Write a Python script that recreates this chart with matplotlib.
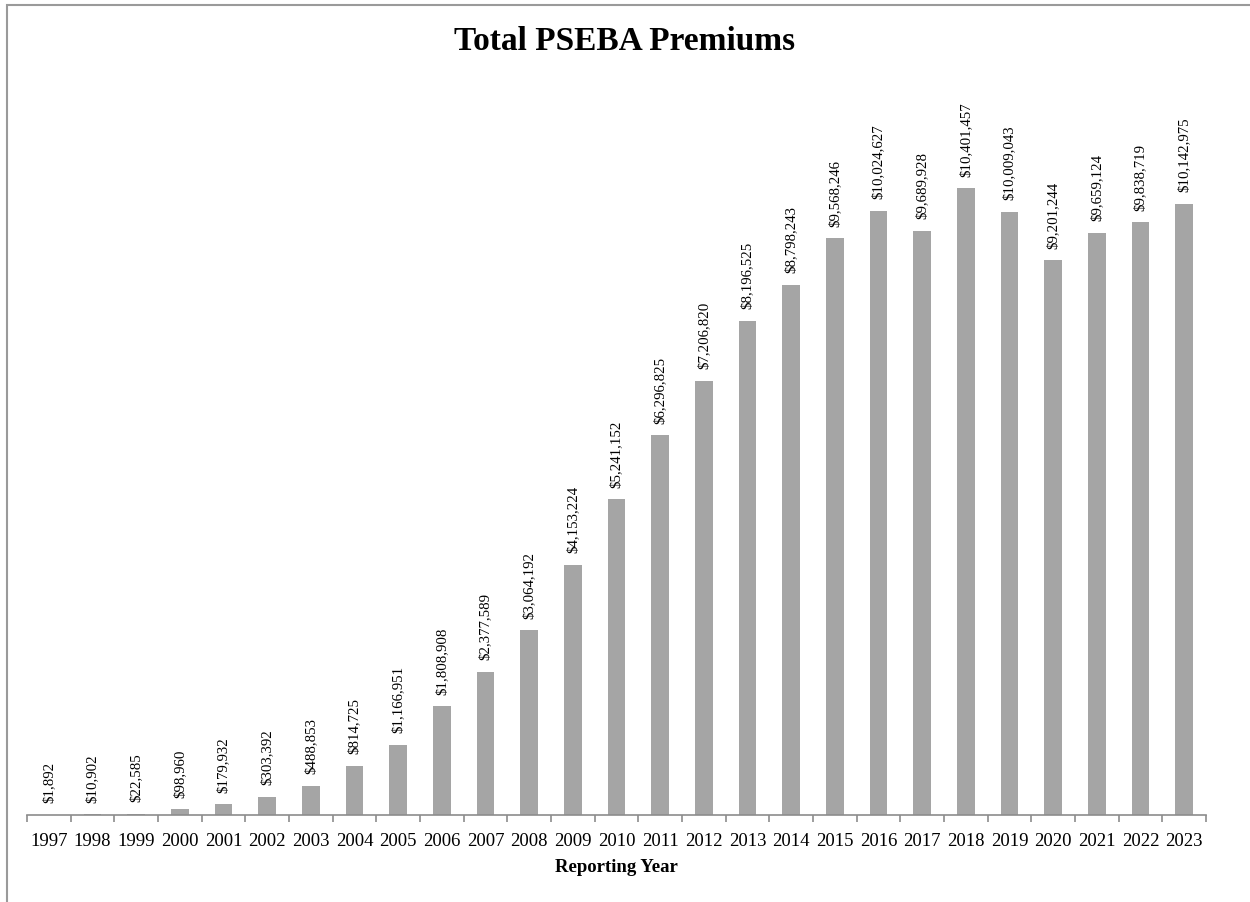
import matplotlib
matplotlib.use("Agg")
import matplotlib.pyplot as plt
from matplotlib.patches import Rectangle
from matplotlib.ticker import FixedLocator, NullFormatter

plt.rcParams['font.family'] = ['Liberation Serif', 'DejaVu Serif']

years = ['1997', '1998', '1999', '2000', '2001', '2002', '2003', '2004', '2005',
         '2006', '2007', '2008', '2009', '2010', '2011', '2012', '2013', '2014',
         '2015', '2016', '2017', '2018', '2019', '2020', '2021', '2022', '2023']
premiums = [1892, 10902, 22585, 98960, 179932, 303392, 488853, 814725, 1166951,
            1808908, 2377589, 3064192, 4153224, 5241152, 6296825, 7206820, 8196525,
            8798243, 9568246, 10024627, 9689928, 10401457, 10009043, 9201244,
            9659124, 9838719, 10142975]

fig = plt.figure(figsize=(12.5, 9.03), dpi=100)

# chart border (only left/top visible in the reference)
fig.patches.append(Rectangle((7 / 1250, -0.1), 1.2, 1.1 - 6 / 903,
                             transform=fig.transFigure, fill=False,
                             edgecolor='#9a9a9a', linewidth=1.5))

ax = fig.add_axes([0.0216, 0.0963, 0.9432, 0.801])
x = list(range(len(years)))
ax.bar(x, premiums, width=0.4, color='#a5a5a5')

ax.set_xlim(-0.5, len(years) - 0.5)
ax.set_ylim(0, 12000000)

# rotated value labels above bars
for xi, v in zip(x, premiums):
    ax.annotate('${:,}'.format(v), (xi, v), xytext=(0, 9), textcoords='offset points',
                rotation=90, ha='center', va='bottom', fontsize=10.7)

for s in ['top', 'right', 'left']:
    ax.spines[s].set_visible(False)
ax.spines['bottom'].set_color('#8c8c8c')
ax.spines['bottom'].set_linewidth(1.2)
ax.set_yticks([])

# labels at centres, tick marks at category boundaries
ax.set_xticks(x)
ax.set_xticklabels(years, fontsize=13.5)
ax.tick_params(axis='x', which='major', length=0, pad=12)
ax.xaxis.set_minor_locator(FixedLocator([i - 0.5 for i in range(len(years) + 1)]))
ax.xaxis.set_minor_formatter(NullFormatter())
ax.tick_params(axis='x', which='minor', length=5, width=1.2, color='#8c8c8c')

ax.set_xlabel('Reporting Year', fontsize=13.5, fontweight='bold', labelpad=7)
fig.text(0.5, 1 - 42 / 903, 'Total PSEBA Premiums', fontsize=24, fontweight='bold',
         ha='center', va='center')

fig.savefig('out.png', dpi=100)
